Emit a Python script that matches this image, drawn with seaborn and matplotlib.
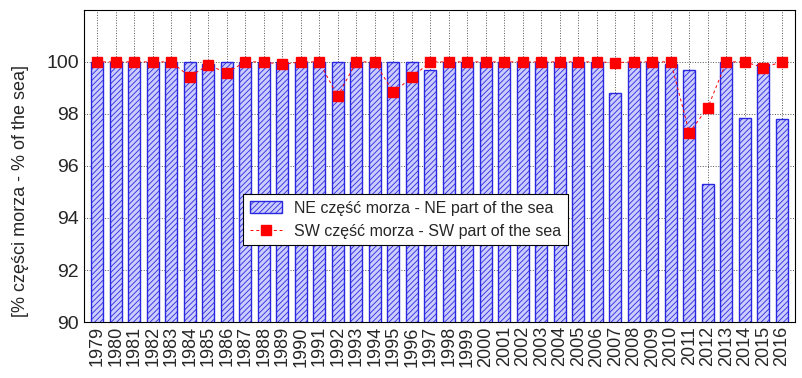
import numpy as np
import pandas as pd
import matplotlib
matplotlib.use('Agg')
import matplotlib.pyplot as plt
import seaborn as sns

years = [str(y) for y in range(1979, 2017)]
# NE part of the sea
ne_part = [100, 100, 100, 100, 100, 100, 99.9, 100, 100, 100,
           100, 100, 100, 100, 100, 100, 100, 100, 99.7, 100,
           100, 100, 100, 100, 100, 100, 100, 100, 98.8, 100,
           100, 99.9, 99.7, 95.3, 100, 97.85, 99.9, 97.8]
# SW part of the sea
sw_part = [100, 100, 100, 100, 100, 99.43, 99.88, 99.58, 100, 100,
           99.9, 100, 100, 98.68, 100, 100, 98.83, 99.4, 100, 100,
           100, 100, 100, 100, 100, 100, 100, 100, 99.97, 100,
           100, 100, 97.28, 98.24, 100, 100, 99.78, 100]

ne_label = 'NE część morza - NE part of the sea'
sw_label = 'SW część morza - SW part of the sea'

df = pd.DataFrame({'year': years, 'ne': ne_part, 'sw': sw_part})

sns.set_style('white')
plt.rcParams['font.family'] = ['Liberation Sans', 'DejaVu Sans']
plt.rcParams['hatch.linewidth'] = 0.6

fig, ax = plt.subplots(figsize=(8.02, 3.78), dpi=100)
fig.subplots_adjust(left=0.105, right=0.991, bottom=0.148, top=0.974)

sns.barplot(data=df, x='year', y='ne', color='#ccccff', width=0.65,
            edgecolor='#2828e0', linewidth=1.0, saturation=1, ax=ax, label=ne_label)
for bar in ax.patches:
    bar.set_hatch('//////')
    bar.set_zorder(2)

ax.plot(np.arange(len(df)), df['sw'], color='red', linestyle='--', linewidth=0.7,
        dashes=(3, 3), marker='s', markersize=7.5, label=sw_label, zorder=3)

ax.set_ylim(90, 102)
ax.set_xlim(-0.7, len(df) - 0.3)
ax.set_yticks([90, 92, 94, 96, 98, 100])
ax.tick_params(axis='y', labelsize=14, length=0, pad=4)
ax.tick_params(axis='x', labelsize=13, rotation=90, length=0, pad=3)
ax.set_xlabel('')
ax.set_ylabel('[% części morza - % of the sea]', fontsize=13)
ax.yaxis.set_label_coords(-0.077, 0.42)
ax.grid(True, linestyle=':', color='#555555', linewidth=0.7, zorder=0)
ax.set_axisbelow(True)
for s in ax.spines.values():
    s.set_color('black')
    s.set_linewidth(0.8)

handles, labels = ax.get_legend_handles_labels()
order = [labels.index(ne_label), labels.index(sw_label)]
leg = ax.legend([handles[i] for i in order], [labels[i] for i in order],
                loc='lower left', bbox_to_anchor=(0.224, 0.247), borderaxespad=0,
                fontsize=11.5, frameon=True, fancybox=False, edgecolor='black',
                framealpha=1, handlelength=2.0, borderpad=0.4, labelspacing=0.5)
leg.get_frame().set_linewidth(0.8)

plt.savefig('out.png', dpi=100)
